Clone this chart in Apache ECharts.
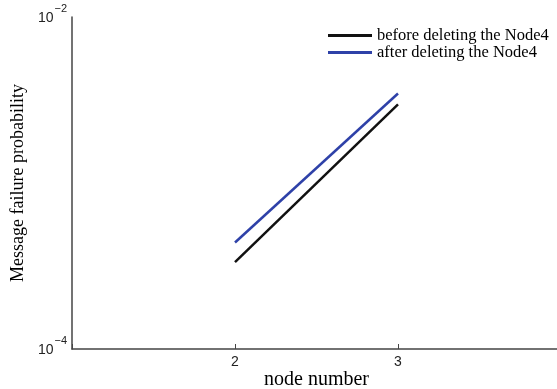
<!DOCTYPE html>
<html>
<head>
<meta charset="utf-8">
<script src="https://cdn.jsdelivr.net/npm/echarts@6/dist/echarts.min.js"></script>
<style>
  html, body { margin: 0; padding: 0; background: #fff; }
  #main { width: 557px; height: 389px; }
</style>
</head>
<body>
<div id="main"></div>
<script>
// node numbers (x) and failure probabilities
var nodeNumbers = [2, 3]
var beforeDelete = [3.34e-4, 2.98e-3]
var afterDelete = [4.38e-4, 3.46e-3]
var seriesNames = ['before deleting the Node4', 'after deleting the Node4']
var xTickLabels = [2, 3]
var yTickLabels = [1e-4, 1e-2]

var chart = echarts.init(document.getElementById('main'))

function pairs(ys) {
  return nodeNumbers.map(function (x, i) { return [x, ys[i]] })
}

var axisColor = '#444'

var option = {
  animation: false,
  legend: {
    data: seriesNames,
    orient: 'vertical',
    top: 27,
    left: 328,
    padding: 0,
    itemWidth: 44,
    itemHeight: 3,
    itemGap: 0,
    icon: 'rect',
    textStyle: {
      fontFamily: 'Liberation Serif',
      fontSize: 16.5,
      color: '#000',
      lineHeight: 16
    }
  },
  grid: {
    left: 72,
    right: -4,
    top: 17,
    bottom: 40,
    containLabel: false,
    outerBoundsMode: 'none'
  },
  xAxis: {
    type: 'value',
    min: 1,
    max: 4,
    interval: 1,
    name: 'node number',
    nameLocation: 'middle',
    nameGap: 21,
    nameMoveOverlap: false,
    nameTextStyle: { fontFamily: 'Liberation Serif', fontSize: 20, color: '#000' },
    axisLine: { lineStyle: { color: axisColor, width: 1.5 } },
    axisTick: { inside: true, length: 5, lineStyle: { color: axisColor } },
    axisLabel: {
      margin: 6,
      fontFamily: 'Liberation Sans',
      fontSize: 14,
      color: '#222',
      formatter: function (v) {
        return xTickLabels.indexOf(v) >= 0 ? String(v) : ''
      }
    },
    splitLine: { show: false }
  },
  yAxis: {
    type: 'log',
    logBase: 10,
    min: 1e-4,
    max: 1e-2,
    name: 'Message failure probability',
    nameLocation: 'middle',
    nameGap: 45,
    nameMoveOverlap: false,
    nameTextStyle: { fontFamily: 'Liberation Serif', fontSize: 18, color: '#000' },
    axisLine: { show: true, lineStyle: { color: axisColor, width: 1.5 } },
    axisTick: {
      inside: true,
      length: 5,
      customValues: [-4, -2],
      lineStyle: { color: axisColor }
    },
    axisLabel: {
      margin: 5,
      formatter: function (v) {
        var ok = yTickLabels.some(function (t) { return Math.abs(Math.log10(v) - Math.log10(t)) < 1e-6 })
        if (!ok) return ''
        var e = Math.round(Math.log10(v))
        return '{b|10}{s|\u2212' + Math.abs(e) + '}'
      },
      rich: {
        b: { fontFamily: 'Liberation Sans', fontSize: 14, color: '#222', padding: [2, 0, 0, 0] },
        s: { fontFamily: 'Liberation Sans', fontSize: 11, color: '#222', padding: [0, 0, 16, 1] }
      }
    },
    splitLine: { show: false }
  },
  series: [
    {
      name: seriesNames[0],
      type: 'line',
      data: pairs(beforeDelete),
      symbol: 'none',
      lineStyle: { color: '#111', width: 2.5 },
      itemStyle: { color: '#111' }
    },
    {
      name: seriesNames[1],
      type: 'line',
      data: pairs(afterDelete),
      symbol: 'none',
      lineStyle: { color: '#2e41a8', width: 2.5 },
      itemStyle: { color: '#2e41a8' }
    }
  ]
}

chart.setOption(option)
</script>
</body>
</html>
